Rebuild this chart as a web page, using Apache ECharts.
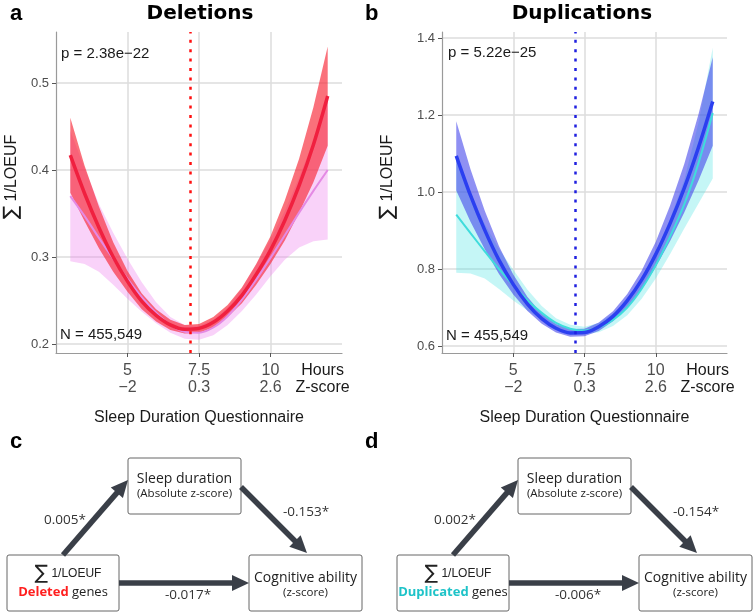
<!DOCTYPE html>
<html>
<head>
<meta charset="UTF-8">
<title>Sleep duration and CNV burden</title>
<script src="https://cdn.jsdelivr.net/npm/echarts@6/dist/echarts.min.js"></script>
<style>
  html, body { margin: 0; padding: 0; background: #fff; }
  #chart { width: 754px; height: 615px; }
</style>
</head>
<body>
<div id="chart"></div>
<script>
var hours = [3, 3.5, 4, 4.5, 5, 5.5, 6, 6.5, 7, 7.5, 8, 8.5, 9, 9.5, 10, 10.5, 11, 11.5, 12];

// deletions: quadratic fit (red) + CI, mean curve (violet) + CI
var delFit    = [0.417, 0.373, 0.334, 0.300, 0.272, 0.249, 0.233, 0.222, 0.217, 0.218, 0.225, 0.238, 0.256, 0.280, 0.308, 0.342, 0.382, 0.429, 0.485];
var delFitLo  = [0.374, 0.341, 0.310, 0.283, 0.260, 0.240, 0.226, 0.216, 0.212, 0.213, 0.219, 0.231, 0.247, 0.268, 0.292, 0.319, 0.351, 0.386, 0.428];
var delFitHi  = [0.460, 0.405, 0.358, 0.317, 0.284, 0.258, 0.240, 0.228, 0.222, 0.223, 0.231, 0.245, 0.265, 0.292, 0.324, 0.365, 0.413, 0.472, 0.542];
var delMean   = [0.370, 0.347, 0.322, 0.298, 0.275, 0.254, 0.236, 0.222, 0.214, 0.213, 0.219, 0.232, 0.251, 0.274, 0.299, 0.325, 0.351, 0.376, 0.400];
var delMeanLo = [0.295, 0.292, 0.283, 0.268, 0.252, 0.237, 0.224, 0.213, 0.206, 0.205, 0.210, 0.222, 0.238, 0.257, 0.278, 0.297, 0.311, 0.318, 0.320];
var delMeanHi = [0.445, 0.402, 0.361, 0.328, 0.298, 0.271, 0.248, 0.231, 0.222, 0.221, 0.228, 0.242, 0.264, 0.291, 0.320, 0.353, 0.391, 0.434, 0.480];

// duplications: quadratic fit (blue) + CI, mean curve (turquoise) + CI
var dupFit    = [1.094, 0.991, 0.901, 0.823, 0.760, 0.709, 0.671, 0.646, 0.634, 0.635, 0.650, 0.677, 0.718, 0.771, 0.838, 0.918, 1.010, 1.116, 1.235];
var dupFitLo  = [1.004, 0.923, 0.851, 0.787, 0.734, 0.691, 0.658, 0.635, 0.624, 0.625, 0.639, 0.664, 0.701, 0.747, 0.805, 0.872, 0.947, 1.030, 1.120];
var dupFitHi  = [1.184, 1.059, 0.951, 0.859, 0.786, 0.727, 0.684, 0.657, 0.644, 0.645, 0.661, 0.690, 0.735, 0.795, 0.871, 0.964, 1.073, 1.202, 1.350];
var dupMean   = [0.941, 0.893, 0.846, 0.800, 0.758, 0.719, 0.686, 0.660, 0.645, 0.640, 0.648, 0.668, 0.700, 0.748, 0.810, 0.884, 0.968, 1.075, 1.205];
var dupMeanLo = [0.790, 0.788, 0.775, 0.748, 0.718, 0.692, 0.668, 0.648, 0.635, 0.630, 0.636, 0.652, 0.680, 0.722, 0.775, 0.838, 0.905, 0.970, 1.035];
var dupMeanHi = [1.092, 1.000, 0.917, 0.852, 0.798, 0.746, 0.704, 0.672, 0.655, 0.650, 0.660, 0.684, 0.720, 0.774, 0.845, 0.930, 1.031, 1.180, 1.375];

// axis ticks and labels
var hourTicks  = [5, 7.5, 10];
var hourLabels = ['5', '7.5', '10'];
var zLabels    = ['\u22122', '0.3', '2.6'];
var unitPos    = 11.82;
var delYTicks  = [0.2, 0.3, 0.4, 0.5];
var dupYTicks  = [0.6, 0.8, 1.0, 1.2, 1.4];
var peakHours  = [7.18, 7.19];
var pTexts     = ['p = 2.38e\u221222', 'p = 5.22e\u221225'];
var nText      = 'N = 455,549';

// mediation coefficients: a path, b path, direct path
var medDel = ['0.005*', '-0.153*', '-0.017*'];
var medDup = ['0.002*', '-0.154*', '-0.006*'];

var PLOT_FONT = 'Liberation Sans, Arial, sans-serif';
var BOX_FONT = 'Open Sans, DejaVu Sans, sans-serif';
var ARROW = '#3a3f48';

function pairs(ys) {
    return hours.map(function (h, i) { return [h, ys[i]]; });
}

// confidence band as one polygon: upper edge left->right, lower edge back
function bandSeries(grid, lo, hi, color) {
    return {
        type: 'custom', xAxisIndex: grid, yAxisIndex: grid, silent: true, clip: true,
        data: hours.map(function (h, i) { return [h, lo[i], hi[i]]; }),
        encode: {x: 0, y: [1, 2]},
        renderItem: function (params, api) {
            if (params.dataIndex !== 0) return null;
            var pts = [], i;
            for (i = 0; i < hours.length; i++) pts.push(api.coord([hours[i], hi[i]]));
            for (i = hours.length - 1; i >= 0; i--) pts.push(api.coord([hours[i], lo[i]]));
            return {
                type: 'polygon',
                shape: {points: pts, smooth: 0},
                style: {fill: color}
            };
        }
    };
}

function lineSeries(grid, ys, color, width) {
    return {
        type: 'line', xAxisIndex: grid, yAxisIndex: grid,
        data: pairs(ys), symbol: 'none', smooth: 0.3,
        lineStyle: {color: color, width: width}, silent: true
    };
}

function xAxisFor(grid) {
    return {
        type: 'value', gridIndex: grid, min: 2.5, max: 12.5, interval: 2.5,
        axisLine: {show: true, onZero: false, lineStyle: {color: '#9a9a9a', width: 1.2}},
        axisTick: {show: true, customValues: hourTicks, length: 4, lineStyle: {color: '#555'}},
        splitLine: {show: true, lineStyle: {color: '#dcdcdc', width: 1.5}},
        axisLabel: {
            customValues: hourTicks.concat([unitPos]), margin: 9,
            formatter: function (v) {
                var i = hourTicks.indexOf(v);
                if (i < 0) return '{k|Hours}\n{k|Z-score}';
                return '{g|' + hourLabels[i] + '}\n{g|' + zLabels[i] + '}';
            },
            rich: {
                g: {color: '#4d4d4d', fontSize: 16, lineHeight: 17, fontFamily: PLOT_FONT},
                k: {color: '#1a1a1a', fontSize: 16, lineHeight: 17, fontFamily: PLOT_FONT}
            }
        },
        name: 'Sleep Duration Questionnaire', nameLocation: 'middle', nameGap: 57,
        nameTextStyle: {fontSize: 16, color: '#1a1a1a', fontFamily: PLOT_FONT}
    };
}

function yAxisFor(grid, min, max, ticks) {
    return {
        type: 'value', gridIndex: grid, min: min, max: max,
        axisLine: {show: true, onZero: false, lineStyle: {color: '#9a9a9a', width: 1.2}},
        axisTick: {show: true, customValues: ticks, length: 4, lineStyle: {color: '#555'}},
        splitLine: {show: true, lineStyle: {color: '#dcdcdc', width: 1.5}},
        axisLabel: {
            customValues: ticks, margin: 7, fontSize: 13, color: '#4d4d4d', fontFamily: PLOT_FONT,
            formatter: function (v) { return v.toFixed(1); }
        }
    };
}

function peakLine(x, color) {
    return {
        silent: true, symbol: ['none', 'none'], label: {show: false},
        lineStyle: {color: color, type: [3, 6.4], width: 2.5, opacity: 1},
        data: [{xAxis: x}]
    };
}

function txt(x, y, text, size, opts) {
    opts = opts || {};
    return {
        type: 'text', x: x, y: y, rotation: opts.rotation || 0, z: 10,
        style: {
            text: text, fill: opts.fill || '#1a1a1a', fontSize: size,
            fontFamily: opts.font || PLOT_FONT, fontWeight: opts.weight || 'normal',
            align: opts.align || 'center', verticalAlign: 'middle', rich: opts.rich
        }
    };
}

function box(x, y, w, h) {
    return {
        type: 'rect', shape: {x: x, y: y, width: w, height: h, r: 2}, z: 5,
        style: {fill: '#fff', stroke: '#666', lineWidth: 1}
    };
}

function arrow(x1, y1, x2, y2) {
    var dx = x2 - x1, dy = y2 - y1, len = Math.sqrt(dx * dx + dy * dy);
    var ux = dx / len, uy = dy / len, L = 17, W = 8;
    var bx = x2 - ux * L, by = y2 - uy * L;
    return [{
        type: 'line', z: 6,
        shape: {x1: x1, y1: y1, x2: bx + ux, y2: by + uy},
        style: {stroke: ARROW, lineWidth: 5.5}
    }, {
        type: 'polygon', z: 6,
        shape: {points: [[x2, y2], [bx - uy * W, by + ux * W], [bx + uy * W, by - ux * W]]},
        style: {fill: ARROW}
    }];
}

function mediation(ox, word, wordColor, coef) {
    var els = [
        box(ox + 128, 458, 113, 56),
        box(ox + 7, 555, 112, 56),
        box(ox + 249, 555, 113, 56),
        txt(ox + 184.5, 479, 'Sleep duration', 14, {font: BOX_FONT, fill: '#222'}),
        txt(ox + 184.5, 494, '(Absolute z-score)', 11.5, {font: BOX_FONT, fill: '#222'}),
        txt(ox + 68, 574, '{s|\u2211} {t|1/LOEUF}', 13, {
            font: BOX_FONT, fill: '#222',
            rich: {
                s: {fontSize: 20, fill: '#222', fontFamily: 'DejaVu Sans'},
                t: {fontSize: 12, fill: '#222', fontFamily: PLOT_FONT}
            }
        }),
        txt(ox + 63, 592, '{w|' + word + '} {n|genes}', 13, {
            font: BOX_FONT,
            rich: {
                w: {fontSize: 13, fill: wordColor, fontWeight: 'bold', fontFamily: BOX_FONT},
                n: {fontSize: 13, fill: '#222', fontFamily: BOX_FONT}
            }
        }),
        txt(ox + 305.5, 578, 'Cognitive ability', 14, {font: BOX_FONT, fill: '#222'}),
        txt(ox + 305.5, 593, '(z-score)', 11.5, {font: BOX_FONT, fill: '#222'}),
        txt(ox + 65, 520, coef[0], 13.5, {font: BOX_FONT, fill: '#333'}),
        txt(ox + 306, 512, coef[1], 13.5, {font: BOX_FONT, fill: '#333'}),
        txt(ox + 188, 595, coef[2], 13.5, {font: BOX_FONT, fill: '#333'})
    ];
    return els
        .concat(arrow(ox + 63, 555, ox + 128, 480))
        .concat(arrow(ox + 241, 487, ox + 307, 553))
        .concat(arrow(ox + 119, 583, ox + 249, 583));
}

var yNameRich = {
    s: {fontSize: 20, fill: '#1a1a1a', fontFamily: 'DejaVu Sans'},
    t: {fontSize: 16, fill: '#1a1a1a', fontFamily: PLOT_FONT}
};

var graphics = [
    txt(10, 14, 'a', 22, {weight: 'bold', align: 'left', fill: '#000'}),
    txt(365, 14, 'b', 22, {weight: 'bold', align: 'left', fill: '#000'}),
    txt(10, 442, 'c', 22, {weight: 'bold', align: 'left', fill: '#000'}),
    txt(365, 442, 'd', 22, {weight: 'bold', align: 'left', fill: '#000'}),
    txt(200, 14, 'Deletions', 20, {weight: 'bold', font: 'DejaVu Sans', fill: '#000'}),
    txt(582, 14, 'Duplications', 20, {weight: 'bold', font: 'DejaVu Sans', fill: '#000'}),
    txt(61, 54, pTexts[0], 15, {align: 'left'}),
    txt(448, 53, pTexts[1], 15, {align: 'left'}),
    txt(60, 335, nText, 15, {align: 'left'}),
    txt(446, 336, nText, 15, {align: 'left'}),
    txt(12, 177, '{s|\u2211} {t|1/LOEUF}', 16, {rotation: Math.PI / 2, rich: yNameRich}),
    txt(388, 177, '{s|\u2211} {t|1/LOEUF}', 16, {rotation: Math.PI / 2, rich: yNameRich})
].concat(mediation(0, 'Deleted', '#ff1f1f', medDel))
 .concat(mediation(390, 'Duplicated', '#1ec3c8', medDup));

var series = [
    bandSeries(0, delMeanLo, delMeanHi, 'rgba(238,130,238,0.36)'),
    bandSeries(0, delFitLo, delFitHi, 'rgba(248,40,55,0.66)'),
    lineSeries(0, delMean, '#e48ae4', 2),
    Object.assign(lineSeries(0, delFit, '#f0203f', 3.5), {markLine: peakLine(peakHours[0], '#ff1010')}),
    bandSeries(1, dupMeanLo, dupMeanHi, 'rgba(64,224,224,0.3)'),
    bandSeries(1, dupFitLo, dupFitHi, 'rgba(62,64,235,0.58)'),
    lineSeries(1, dupMean, '#3fdcdc', 2),
    Object.assign(lineSeries(1, dupFit, '#2b3ff0', 3.5), {markLine: peakLine(peakHours[1], '#2020e0')})
];

var chart = echarts.init(document.getElementById('chart'), null, {renderer: 'canvas'});
chart.setOption({
    animation: false,
    backgroundColor: '#fff',
    textStyle: {fontFamily: PLOT_FONT},
    grid: [
        {left: 56, top: 32, width: 286, height: 321},
        {left: 442, top: 32, width: 285, height: 321}
    ],
    xAxis: [xAxisFor(0), xAxisFor(1)],
    yAxis: [
        yAxisFor(0, 0.1897, 0.5586, delYTicks),
        yAxisFor(1, 0.5818, 1.4156, dupYTicks)
    ],
    series: series,
    graphic: {elements: graphics}
});
</script>
</body>
</html>
